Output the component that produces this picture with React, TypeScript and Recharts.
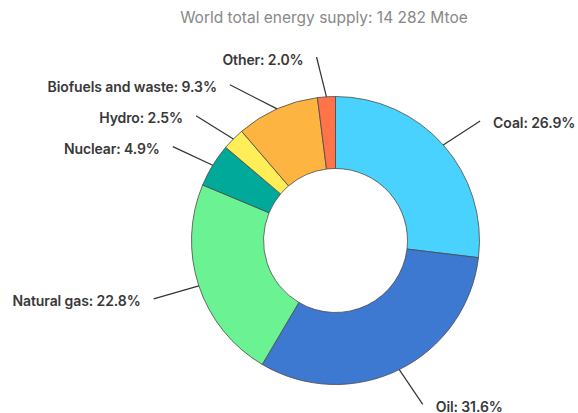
import React from "react";
import { PieChart, Pie, Cell } from "recharts";

const categories = ["Coal", "Oil", "Natural gas", "Nuclear", "Hydro", "Biofuels and waste", "Other"];
const shares = [26.9, 31.6, 22.8, 4.9, 2.5, 9.3, 2.0];
const colors = ["#48D2FD", "#3D78D1", "#6BF393", "#00A99A", "#FFEE58", "#FDB441", "#FF7349"];
const title = "World total energy supply: 14 282 Mtoe";

// label leader-line direction (degrees, screen math orientation) and length
const leaderAngle = [33, -56, 196, 155, 148, 153, 104];
const leaderLength = [44, 42, 47, 44, 44, 53, 41];

const data = categories.map((name, i) => ({ name, value: shares[i] }));
const RAD = Math.PI / 180;

const renderLabel = (props: any) => {
  const { cx, cy, midAngle, outerRadius, index, name, value } = props;
  const sx = cx + outerRadius * Math.cos(-midAngle * RAD);
  const sy = cy + outerRadius * Math.sin(-midAngle * RAD);
  const a = leaderAngle[index] * RAD;
  const L = leaderLength[index];
  const ex = sx + L * Math.cos(a);
  const ey = sy - L * Math.sin(a);
  const right = Math.cos(a) > 0;
  const tx = ex + (right ? 13 : -13);
  return (
    <g>
      <line x1={sx} y1={sy} x2={ex} y2={ey} stroke="#333" strokeWidth={1.2} />
      <text
        x={tx}
        y={ey + 2}
        textAnchor={right ? "start" : "end"}
        dominantBaseline="central"
        fill="#383838"
        fontFamily="Inter, 'Noto Sans', sans-serif"
        fontWeight={600}
        fontSize={14}
        letterSpacing={-0.1}
      >
        {`${name}: ${value.toFixed(1)}%`}
      </text>
    </g>
  );
};

export default function App() {
  return (
    <div style={{ position: "absolute", left: 0, top: 0, width: 578, height: 413, background: "#fff" }}>
      <div
        style={{
          position: "absolute",
          left: 0,
          top: 8,
          width: 648,
          textAlign: "center",
          fontFamily: "Inter, sans-serif",
          fontSize: 15.5,
          color: "#888",
          lineHeight: "20px",
        }}
      >
        {title}
      </div>
      <PieChart width={578} height={413} margin={{ top: 0, right: 0, bottom: 0, left: 0 }}>
        <Pie
          data={data}
          dataKey="value"
          nameKey="name"
          cx={335.5}
          cy={240.5}
          innerRadius={72}
          outerRadius={144}
          startAngle={90}
          endAngle={-270}
          stroke="#4a4a4a"
          strokeWidth={0.8}
          label={renderLabel}
          labelLine={false}
          isAnimationActive={false}
        >
          {data.map((d, i) => (
            <Cell key={d.name} fill={colors[i]} />
          ))}
        </Pie>
      </PieChart>
    </div>
  );
}
